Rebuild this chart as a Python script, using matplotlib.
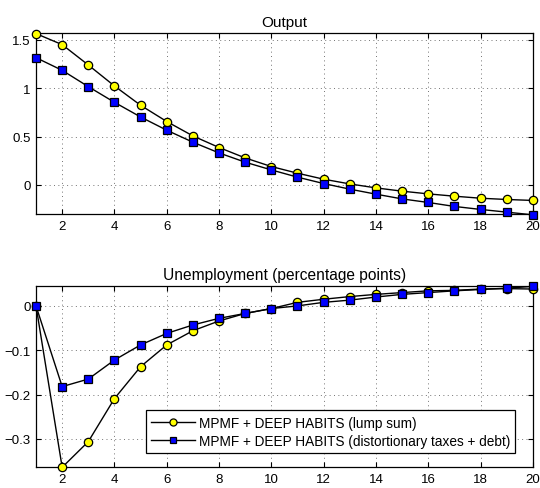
import numpy as np
import matplotlib
matplotlib.use('Agg')
import matplotlib.pyplot as plt

plt.rcParams['font.family'] = ['Liberation Sans', 'DejaVu Sans']

periods = np.arange(1, 21)

# Output
output_lump = [1.566, 1.452, 1.241, 1.024, 0.824, 0.656, 0.507, 0.387, 0.279, 0.190,
               0.121, 0.059, 0.010, -0.031, -0.065, -0.093, -0.117, -0.138, -0.151, -0.161]
output_dist = [1.317, 1.186, 1.017, 0.855, 0.703, 0.566, 0.442, 0.331, 0.235, 0.155,
               0.080, 0.014, -0.044, -0.096, -0.145, -0.182, -0.223, -0.254, -0.282, -0.310]

# Unemployment (percentage points)
unemp_lump = [0.0, -0.364, -0.306, -0.209, -0.137, -0.088, -0.056, -0.034, -0.017, -0.006,
              0.008, 0.015, 0.021, 0.026, 0.030, 0.034, 0.035, 0.038, 0.039, 0.038]
unemp_dist = [0.0, -0.182, -0.165, -0.122, -0.088, -0.062, -0.043, -0.028, -0.017, -0.006,
              0.0, 0.008, 0.013, 0.020, 0.026, 0.030, 0.034, 0.037, 0.040, 0.044]

labels = ['MPMF + DEEP HABITS (lump sum)',
          'MPMF + DEEP HABITS (distortionary taxes + debt)']

fig = plt.figure(figsize=(5.4, 4.89), dpi=100)
ax1 = fig.add_axes([0.0667, 0.560, 0.920, 0.370])
ax2 = fig.add_axes([0.0667, 0.0423, 0.920, 0.370])


def style(ax):
    ax.grid(True, linestyle=(0, (1, 3.5)), color='0.45', linewidth=0.7)
    ax.tick_params(direction='in', length=3.5, labelsize=9.5, top=True, right=True, pad=4)
    ax.set_xlim(1, 20)
    ax.set_xticks(np.arange(2, 21, 2))
    for s in ax.spines.values():
        s.set_linewidth(0.9)


ax1.plot(periods, output_lump, '-o', color='black', lw=1, ms=6,
         mfc='yellow', mec='black', mew=0.9, clip_on=False, zorder=3)
ax1.plot(periods, output_dist, '-s', color='black', lw=1, ms=5.5,
         mfc='blue', mec='black', mew=0.9, clip_on=False, zorder=3)
style(ax1)
ax1.set_ylim(-0.303, 1.57)
ax1.set_yticks([0, 0.5, 1, 1.5])
ax1.set_yticklabels(['0', '0.5', '1', '1.5'])
ax1.set_title('Output', fontsize=11, pad=5)

ax2.plot(periods, unemp_lump, '-o', color='black', lw=1, ms=6,
         mfc='yellow', mec='black', mew=0.9, clip_on=False, zorder=3, label=labels[0])
ax2.plot(periods, unemp_dist, '-s', color='black', lw=1, ms=5.5,
         mfc='blue', mec='black', mew=0.9, clip_on=False, zorder=3, label=labels[1])
style(ax2)
ax2.set_ylim(-0.364, 0.044)
ax2.set_yticks([0, -0.1, -0.2, -0.3])
ax2.set_yticklabels(['0', '\u22120.1', '\u22120.2', '\u22120.3'])
ax2.set_title('Unemployment (percentage points)', fontsize=11.2, pad=5)
leg = ax2.legend(loc='lower right', bbox_to_anchor=(0.965, 0.077), fontsize=9.8,
                 fancybox=False, edgecolor='black', framealpha=1,
                 handlelength=3.2, borderpad=0.4, labelspacing=0.3, handletextpad=0.3,
                 borderaxespad=0, markerscale=0.85)
leg.get_frame().set_linewidth(0.9)
leg.set_zorder(5)

fig.savefig('out.png', dpi=100)
